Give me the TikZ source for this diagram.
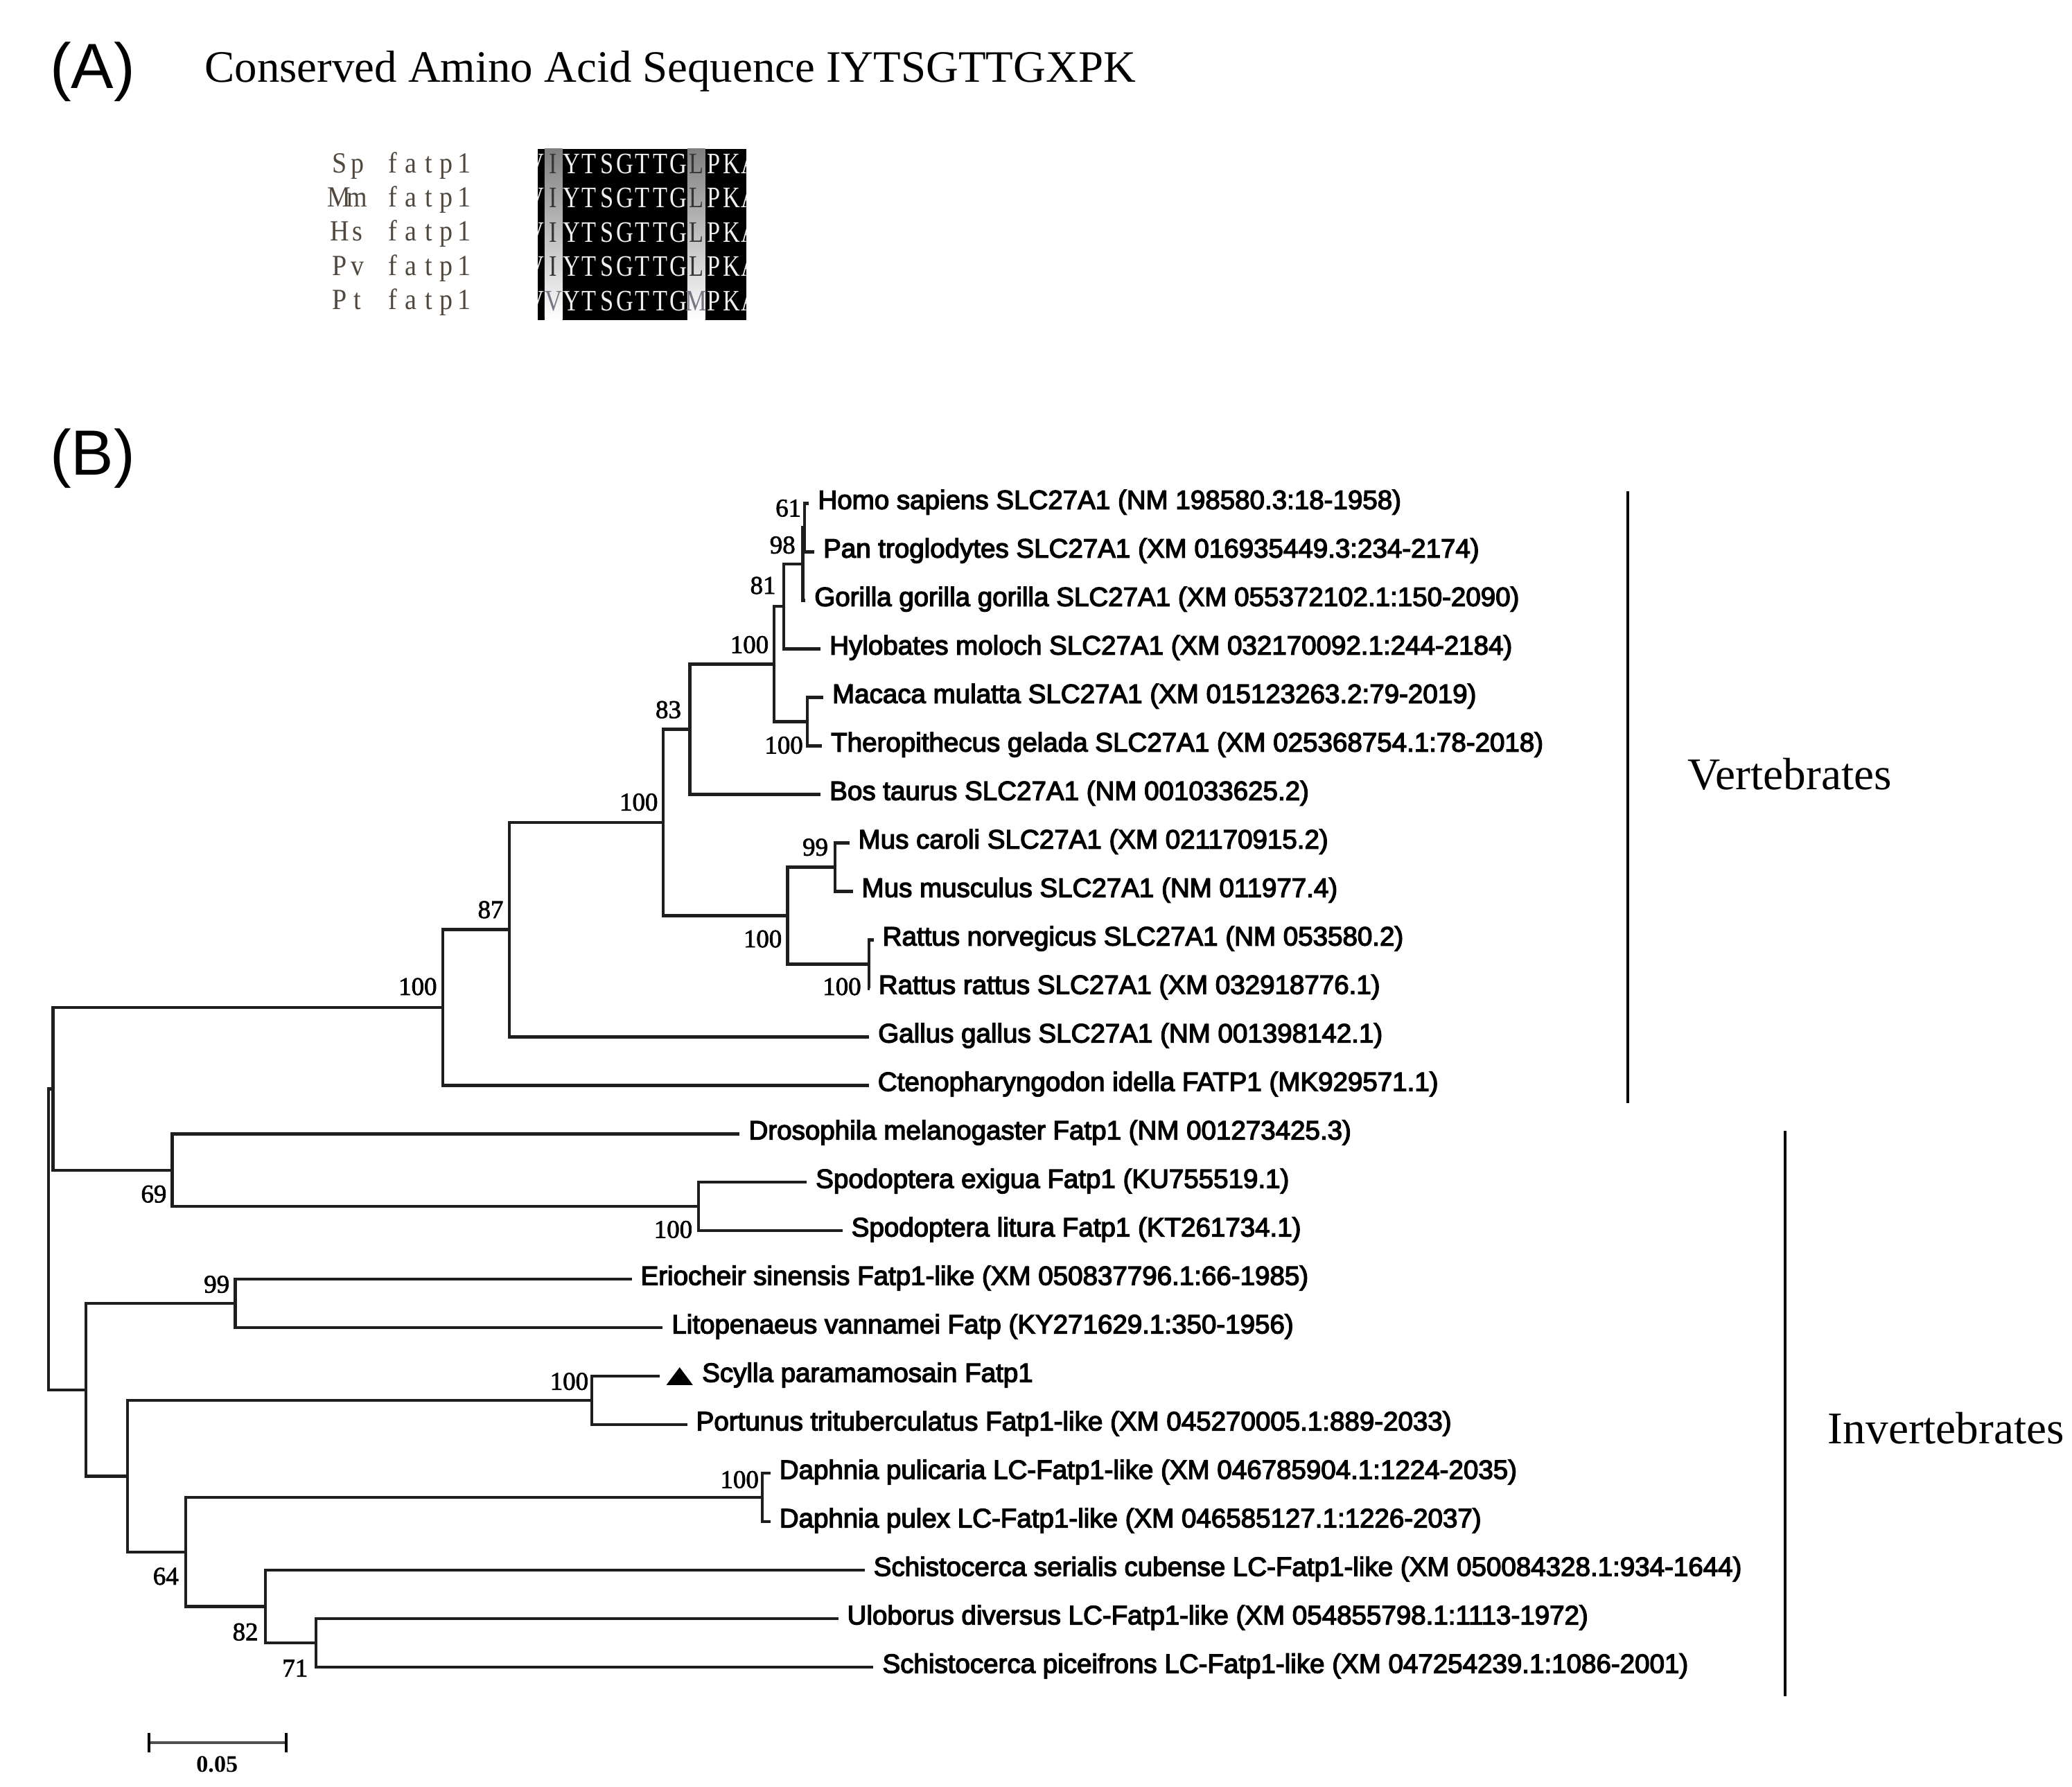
\documentclass[tikz,border=0pt]{standalone}
\usepackage{fontspec}
\setmainfont{Liberation Serif}
\newfontfamily\treefont[FakeBold=3.5]{Liberation Sans}
\newfontfamily\panelfont{Liberation Sans}
\newfontfamily\seqfont[FakeStretch=0.8]{Liberation Serif}
\newfontfamily\seqlabfont[FakeStretch=0.9]{Liberation Serif}
\newfontfamily\bootfont[FakeBold=2]{Liberation Serif}
\definecolor{treegray}{RGB}{30,30,30}
\definecolor{shade}{RGB}{192,192,192}
\definecolor{labcol}{RGB}{80,72,62}
\definecolor{darkres}{RGB}{58,52,52}
\definecolor{lightres}{RGB}{118,118,132}
\tikzset{
  br/.style={line width=1.3pt, draw=treegray},
  leaf/.style={anchor=base west, inner sep=0pt, xshift=0.13cm, yshift=-0.086cm,
    font=\treefont\fontsize{11.5}{13}\selectfont},
  boot/.style={anchor=east, inner sep=0pt, font=\bootfont\fontsize{11}{12}\selectfont},
  panel/.style={anchor=base west, inner sep=0pt, font=\panelfont\fontsize{27.5}{30}\selectfont},
  group/.style={anchor=west, inner sep=0pt, font=\fontsize{19.5}{22}\selectfont},
  groupbar/.style={line width=1pt, draw=black},
  res/.style={anchor=base, inner sep=0pt, font=\seqfont\fontsize{12.8}{14}\selectfont},
  seqlab/.style={anchor=base, inner sep=0pt, text=labcol, font=\seqlabfont\fontsize{12.6}{14}\selectfont},
}
\begin{document}
\begin{tikzpicture}[x=0.02cm, y=-0.02cm]
\useasboundingbox (0,0) rectangle (1568,1352);
\fill[white] (0,0) rectangle (1568,1352);

% ---------------- Panel A ----------------
\node[panel] (labA) at (37.5,66.9) {(A)};
\node[anchor=base west, inner sep=0pt, font=\fontsize{19.35}{22}\selectfont] (title) at (154.7,61.9)
  {Conserved Amino Acid Sequence IYTSGTTGXPK};

% alignment block
\fill[black] (407.2,112.7) rectangle (564.6,242.1);
\fill[shade] (412.1,112.7) rectangle (425.6,242.1);
\fill[shade] (520.1,112.7) rectangle (533.6,242.1);
\begin{scope}
  \clip (407.2,112.7) rectangle (564.6,242.1);
  \foreach \r/\a/\b/\c in {0/I/L/darkres,1/I/L/darkres,2/I/L/darkres,3/I/L/darkres,4/V/M/lightres} {
    \node[res, text=white!94!black] at ({418.85-13.5},{131.4+25.9*\r}) {V};
    \node[res, text=\c] at (418.85,{131.4+25.9*\r}) {\a};
    \foreach \ch [count=\k] in {Y,T,S,G,T,T,G}
      \node[res, text=white!94!black] at ({418.85+13.5*\k},{131.4+25.9*\r}) {\ch};
    \node[res, text=\c] at ({418.85+13.5*8},{131.4+25.9*\r}) {\b};
    \foreach \ch [count=\k from 9] in {P,K,A}
      \node[res, text=white!94!black] at ({418.85+13.5*\k},{131.4+25.9*\r}) {\ch};
  }
\end{scope}

% sequence labels
\foreach \p/\q [count=\r from 0] in {S/p,M/m,H/s,P/v,P/t} {
  \node[seqlab] (sl\r a) at ({418.85-13.5*12},{130.6+25.9*\r}) {\p};
  \node[seqlab] (sl\r b) at ({418.85-13.5*11},{130.6+25.9*\r}) {\q};
  \foreach \ch [count=\k from 9] in {f,a,t,p,1}
    \node[seqlab] at ({418.85-13.5*(18-\k)},{130.6+25.9*\r}) {\ch};
}

% ---------------- Panel B ----------------
\node[panel] (labB) at (37.5,359.6) {(B)};

% leaf tips
\coordinate (t1) at (612.2,381.0);
\coordinate (t2) at (616.2,417.7);
\coordinate (t3) at (609.5,454.4);
\coordinate (t4) at (621.0,491.1);
\coordinate (t5) at (623.0,527.8);
\coordinate (t6) at (622.0,564.5);
\coordinate (t7) at (621.0,601.2);
\coordinate (t8) at (642.7,637.9);
\coordinate (t9) at (645.3,674.6);
\coordinate (t10) at (661.1,711.3);
\coordinate (t11) at (658.0,748.0);
\coordinate (t12) at (657.7,784.7);
\coordinate (t13) at (657.5,821.4);
\coordinate (t14) at (559.8,858.1);
\coordinate (t15) at (610.5,894.8);
\coordinate (t16) at (637.5,931.5);
\coordinate (t17) at (478.0,968.2);
\coordinate (t18) at (501.5,1004.9);
\coordinate (t19) at (499.0,1041.6);
\coordinate (t20) at (520.0,1078.3);
\coordinate (t21) at (583.0,1115.0);
\coordinate (t22) at (583.0,1151.7);
\coordinate (t23) at (654.3,1188.4);
\coordinate (t24) at (634.3,1225.1);
\coordinate (t25) at (661.0,1261.8);

% internal nodes
\coordinate (nHP) at (608.9,399.35);
\coordinate (nQ)  at (607.5,426.9);
\coordinate (nP)  at (593.1,459.0);
\coordinate (nMT) at (611.0,546.15);
\coordinate (nZ)  at (585.6,502.6);
\coordinate (nY)  at (522.0,551.9);
\coordinate (nMU) at (632.0,656.25);
\coordinate (nRA) at (657.5,729.65);
\coordinate (nMR) at (596.0,692.95);
\coordinate (nX)  at (502.0,622.4);
\coordinate (nW)  at (385.4,703.55);
\coordinate (nV)  at (335.0,762.5);
\coordinate (nS)  at (528.5,913.15);
\coordinate (nI)  at (130.4,885.6);
\coordinate (nA)  at (40.1,824.05);
\coordinate (nE)  at (178.0,986.55);
\coordinate (nG)  at (448.0,1059.95);
\coordinate (nD)  at (577.0,1133.35);
\coordinate (nK)  at (239.0,1243.45);
\coordinate (nJ)  at (201.0,1215.9);
\coordinate (nH)  at (140.5,1174.6);
\coordinate (nF)  at (96.4,1117.3);
\coordinate (nC)  at (65.0,1051.9);
\coordinate (nR)  at (36.6,937.95);

% branches
\foreach \p/\c in {nHP/t1,nHP/t2,nQ/nHP,nQ/t3,nP/nQ,nP/t4,nMT/t5,nMT/t6,nZ/nP,nZ/nMT,
  nY/nZ,nY/t7,nMU/t8,nMU/t9,nRA/t10,nRA/t11,nMR/nMU,nMR/nRA,nX/nY,nX/nMR,nW/nX,nW/t12,
  nV/nW,nV/t13,nS/t15,nS/t16,nI/t14,nI/nS,nA/nV,nA/nI,nE/t17,nE/t18,nG/t19,nG/t20,
  nD/t21,nD/t22,nK/t24,nK/t25,nJ/t23,nJ/nK,nH/nD,nH/nJ,nF/nG,nF/nH,nC/nE,nC/nF,nR/nA,nR/nC}
  \draw[br] (\p) |- (\c);

% leaf labels
\node[leaf] (l1) at (t1) {Homo sapiens SLC27A1 (NM 198580.3:18-1958)};
\node[leaf] (l2) at (t2) {Pan troglodytes SLC27A1 (XM 016935449.3:234-2174)};
\node[leaf] (l3) at (t3) {Gorilla gorilla gorilla SLC27A1 (XM 055372102.1:150-2090)};
\node[leaf] (l4) at (t4) {Hylobates moloch SLC27A1 (XM 032170092.1:244-2184)};
\node[leaf] (l5) at (t5) {Macaca mulatta SLC27A1 (XM 015123263.2:79-2019)};
\node[leaf] (l6) at (t6) {Theropithecus gelada SLC27A1 (XM 025368754.1:78-2018)};
\node[leaf] (l7) at (t7) {Bos taurus SLC27A1 (NM 001033625.2)};
\node[leaf] (l8) at (t8) {Mus caroli SLC27A1 (XM 021170915.2)};
\node[leaf] (l9) at (t9) {Mus musculus SLC27A1 (NM 011977.4)};
\node[leaf] (l10) at (t10) {Rattus norvegicus SLC27A1 (NM 053580.2)};
\node[leaf] (l11) at (t11) {Rattus rattus SLC27A1 (XM 032918776.1)};
\node[leaf] (l12) at (t12) {Gallus gallus SLC27A1 (NM 001398142.1)};
\node[leaf] (l13) at (t13) {Ctenopharyngodon idella FATP1 (MK929571.1)};
\node[leaf] (l14) at (t14) {Drosophila melanogaster Fatp1 (NM 001273425.3)};
\node[leaf] (l15) at (t15) {Spodoptera exigua Fatp1 (KU755519.1)};
\node[leaf] (l16) at (t16) {Spodoptera litura Fatp1 (KT261734.1)};
\node[leaf] (l17) at (t17) {Eriocheir sinensis Fatp1-like (XM 050837796.1:66-1985)};
\node[leaf] (l18) at (t18) {Litopenaeus vannamei Fatp (KY271629.1:350-1956)};
\fill[black] (504.3,1048.2) -- (524.3,1048.2) -- (514.3,1034.8) -- cycle;
\node[leaf, xshift=0.51cm] (l19) at (t19) {Scylla paramamosain Fatp1};
\node[leaf] (l20) at (t20) {Portunus trituberculatus Fatp1-like (XM 045270005.1:889-2033)};
\node[leaf] (l21) at (t21) {Daphnia pulicaria LC-Fatp1-like (XM 046785904.1:1224-2035)};
\node[leaf] (l22) at (t22) {Daphnia pulex LC-Fatp1-like (XM 046585127.1:1226-2037)};
\node[leaf] (l23) at (t23) {Schistocerca serialis cubense LC-Fatp1-like (XM 050084328.1:934-1644)};
\node[leaf] (l24) at (t24) {Uloborus diversus LC-Fatp1-like (XM 054855798.1:1113-1972)};
\node[leaf] (l25) at (t25) {Schistocerca piceifrons LC-Fatp1-like (XM 047254239.1:1086-2001)};

% bootstrap values
\node[boot] (b1) at (606.6,384.6) {61};
\node[boot] (b2) at (602.2,412.5) {98};
\node[boot] (b3) at (587.4,443.1) {81};
\node[boot] (b4) at (582.0,487.9) {100};
\node[boot] (b5) at (515.8,537.1) {83};
\node[boot] (b6) at (498.2,607.1) {100};
\node[boot] (b7) at (608.0,564.0) {100};
\node[boot] (b8) at (627.0,641.2) {99};
\node[boot] (b9) at (592.0,710.6) {100};
\node[boot] (b10) at (652.0,746.7) {100};
\node[boot] (b11) at (381.3,688.5) {87};
\node[boot] (b12) at (331.0,746.7) {100};
\node[boot] (b13) at (126.4,903.7) {69};
\node[boot] (b14) at (524.3,930.5) {100};
\node[boot] (b15) at (174.0,972.0) {99};
\node[boot] (b16) at (445.6,1045.5) {100};
\node[boot] (b17) at (574.5,1119.8) {100};
\node[boot] (b18) at (135.5,1193.0) {64};
\node[boot] (b19) at (195.7,1235.1) {82};
\node[boot] (b20) at (233.3,1262.5) {71};

% group bars
\coordinate (vt) at (1231.8,372);
\coordinate (vb) at (1231.8,834.7);
\draw[groupbar] (vt) -- (vb);
\node[group] (vert) at (1277,586) {Vertebrates};
\coordinate (it) at (1350.8,855.6);
\coordinate (ib) at (1350.8,1283.6);
\draw[groupbar] (it) -- (ib);
\node[group] (invert) at (1383,1081) {Invertebrates};

% scale bar
\coordinate (s1) at (112.7,1318.8);
\coordinate (s2) at (216.7,1318.8);
\coordinate (s1a) at (112.7,1311.8);
\coordinate (s1b) at (112.7,1326.3);
\coordinate (s2a) at (216.7,1311.8);
\coordinate (s2b) at (216.7,1326.3);
\draw[line width=1.3pt, draw={rgb,255:red,80;green,80;blue,80}] (s1) -- (s2);
\draw[line width=1.1pt] (s1a) -- (s1b);
\draw[line width=1.1pt] (s2a) -- (s2b);
\node[inner sep=0pt, font=\bfseries\fontsize{10.2}{11}\selectfont] (sl) at (164.3,1335.4) {0.05};
\end{tikzpicture}
\end{document}
